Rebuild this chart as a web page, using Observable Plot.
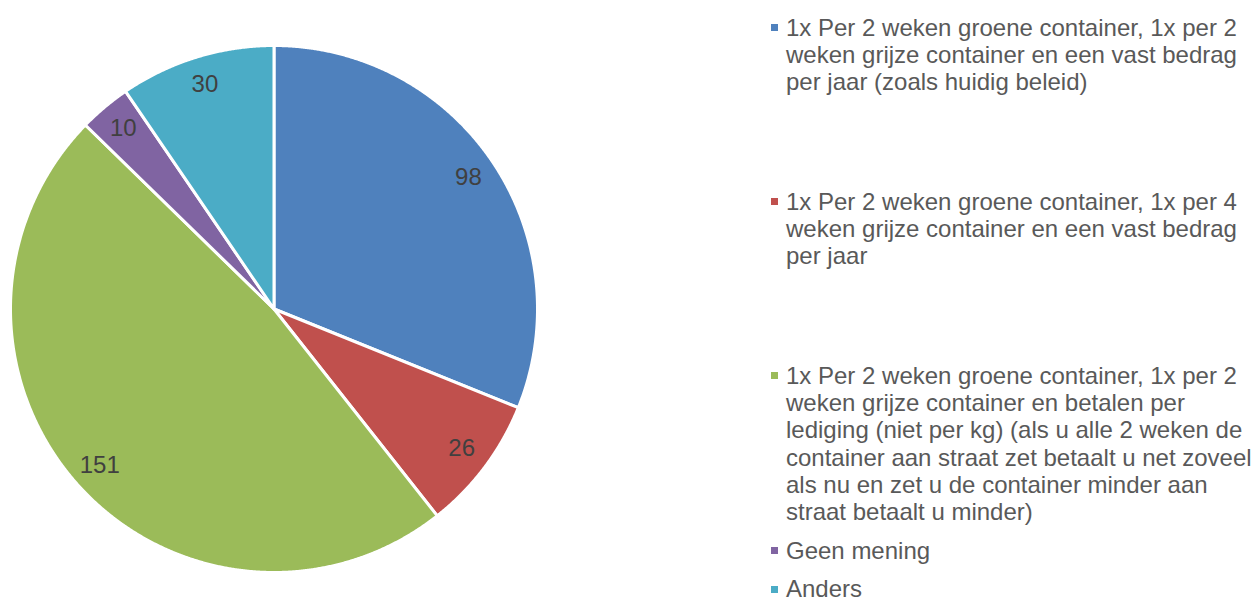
<!DOCTYPE html>
<html><head><meta charset="utf-8">
<script src="https://cdn.jsdelivr.net/npm/d3@7"></script>
<script src="https://cdn.jsdelivr.net/npm/@observablehq/plot@0.6"></script>
<style>
body{margin:0;background:#fff;}
#wrap{position:relative;width:1254px;height:601px;overflow:hidden;}
#wrap svg{position:absolute;left:0;top:0;}
.leg{position:absolute;left:786px;font-family:"Liberation Sans",Arial,sans-serif;font-size:24px;color:#595959;line-height:27.3px;white-space:nowrap;}
.sw{position:absolute;left:-15px;top:10px;width:7px;height:7px;}
.leg.last{line-height:22px;}
.leg.last .sw{top:7.5px;}
</style></head><body><div id="wrap"></div>
<script>
const categories = [
  "1x Per 2 weken groene container, 1x per 2\nweken grijze container en een vast bedrag\nper jaar (zoals huidig beleid)",
  "1x Per 2 weken groene container, 1x per 4\nweken grijze container en een vast bedrag\nper jaar",
  "1x Per 2 weken groene container, 1x per 2\nweken grijze container en betalen per\nlediging (niet per kg) (als u alle 2 weken de\ncontainer aan straat zet betaalt u net zoveel\nals nu en zet u de container minder aan\nstraat betaalt u minder)",
  "Geen mening",
  "Anders"
];
const values = [98, 26, 151, 10, 30];
const colors = ["#4F81BD", "#C0504D", "#9BBB59", "#8064A2", "#4BACC6"];

const total = d3.sum(values);
const slices = [];
let acc = 0;
values.forEach((v, i) => {
  const a0 = acc / total * 2 * Math.PI;
  acc += v;
  const a1 = acc / total * 2 * Math.PI;
  slices.push({cat: categories[i], value: v, a0, a1, mid: (a0 + a1) / 2});
});
// polygon outline of each slice (geometry in unit-circle space)
const outline = [];
for (const s of slices) {
  outline.push({cat: s.cat, x: 0, y: 0});
  const n = Math.max(2, Math.ceil((s.a1 - s.a0) / 0.004));
  for (let k = 0; k <= n; k++) {
    const a = s.a0 + (s.a1 - s.a0) * k / n;
    outline.push({cat: s.cat, x: Math.sin(a), y: Math.cos(a)});
  }
  outline.push({cat: s.cat, x: 0, y: 0});
}

const chart = Plot.plot({
  width: 1254,
  height: 601,
  x: {domain: [-1, 1], range: [10, 537], axis: null},
  y: {domain: [-1, 1], range: [572, 45], axis: null},
  color: {domain: categories, range: colors},
  style: {background: "transparent"},
  marks: [
    Plot.line(outline, {x: "x", y: "y", z: "cat", fill: "cat", stroke: "white", strokeWidth: 3, strokeLinejoin: "round", curve: "linear"}),
    Plot.text(slices, {
      x: d => 0.89 * Math.sin(d.mid), y: d => 0.89 * Math.cos(d.mid),
      text: d => String(d.value), fill: "#404040", fontSize: 24, dy: -1,
      fontFamily: "Liberation Sans, Arial, sans-serif"
    })
  ]
});
const wrap = document.getElementById("wrap");
wrap.appendChild(chart);

const legendTops = [13.8, 187.8, 361.8, 536.8, 578];
categories.forEach((c, i) => {
  const div = document.createElement("div");
  div.className = "leg" + (i === categories.length - 1 ? " last" : "");
  div.style.top = legendTops[i] + "px";
  const sw = document.createElement("span");
  sw.className = "sw";
  sw.style.background = colors[i];
  div.appendChild(sw);
  c.split("\n").forEach((line, j) => {
    if (j) div.appendChild(document.createElement("br"));
    div.appendChild(document.createTextNode(line));
  });
  wrap.appendChild(div);
});
</script>
</body></html>
